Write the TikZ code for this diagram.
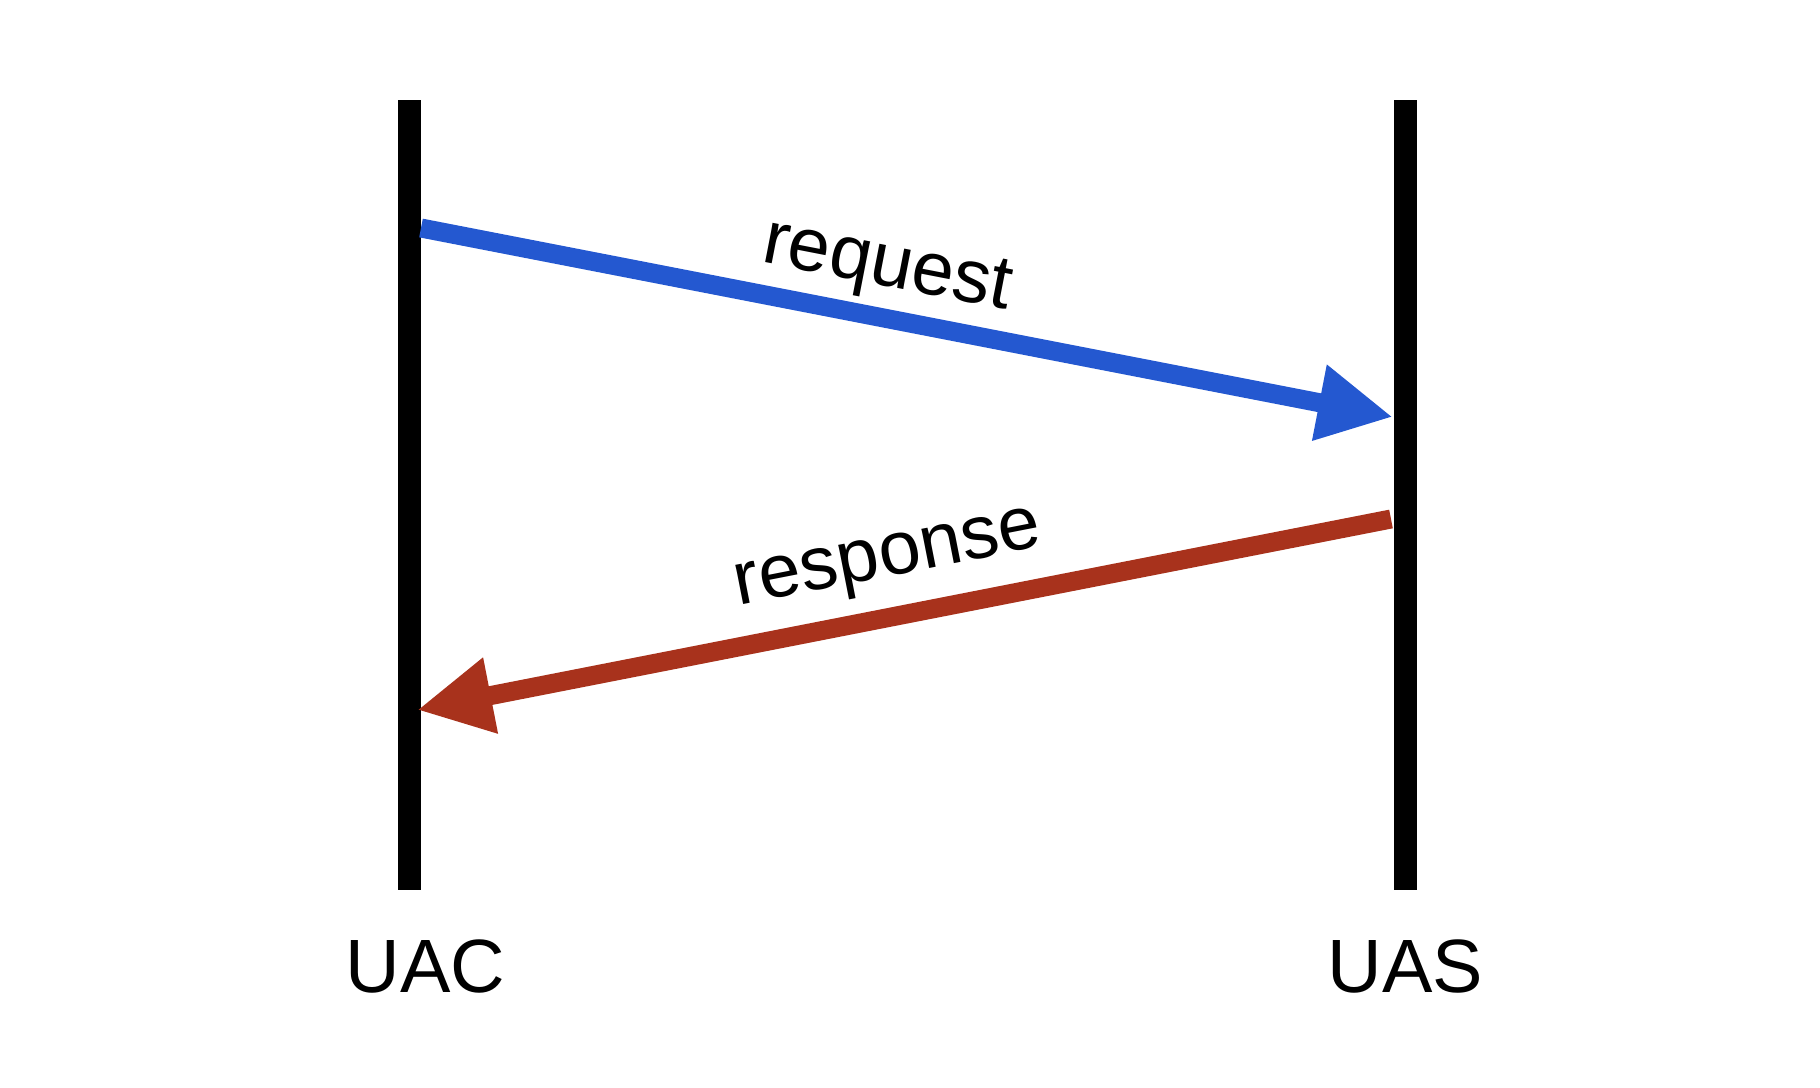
\documentclass[tikz,border=0pt]{standalone}
\usepackage{fontspec}
\setmainfont{Liberation Sans}
\usetikzlibrary{arrows.meta, calc}
\definecolor{reqblue}{RGB}{36,88,208}
\definecolor{resred}{RGB}{168,50,28}

\begin{document}
\begin{tikzpicture}[>={Triangle[length=7.5mm, width=7.2mm]}, font=\fontsize{21.5}{26}\selectfont]
        \useasboundingbox (0, 0) rectangle (18.2, -10.88);
        \coordinate (uactop) at (4.095, -1.00);
        \coordinate (uacbot) at (4.095, -8.90);
        \coordinate (uastop) at (14.055, -1.00);
        \coordinate (uasbot) at (14.055, -8.90);
        \draw[line width=0.23cm] (uactop) -- (uacbot);
        \draw[line width=0.23cm] (uastop) -- (uasbot);
        \node[anchor=base] (uac) at ($(uacbot)+(0.16, -1.02)$) {UAC};
        \node[anchor=base] (uas) at ($(uasbot)+(0, -1.02)$) {UAS};
        \coordinate (req1) at (4.21, -2.28);
        \coordinate (req2) at (13.93, -4.17);
        \coordinate (res1) at (13.91, -5.19);
        \coordinate (res2) at (4.17, -7.10);
        \draw[->, reqblue, line width=0.19cm] (req1) -- node[pos=0.47, above=-1.5pt, sloped, black] (reqlbl) {request} (req2);
        \draw[->, resred, line width=0.19cm] (res1) -- node[pos=0.505, above=1pt, sloped, black] (reslbl) {response} (res2);
\end{tikzpicture}
\end{document}
